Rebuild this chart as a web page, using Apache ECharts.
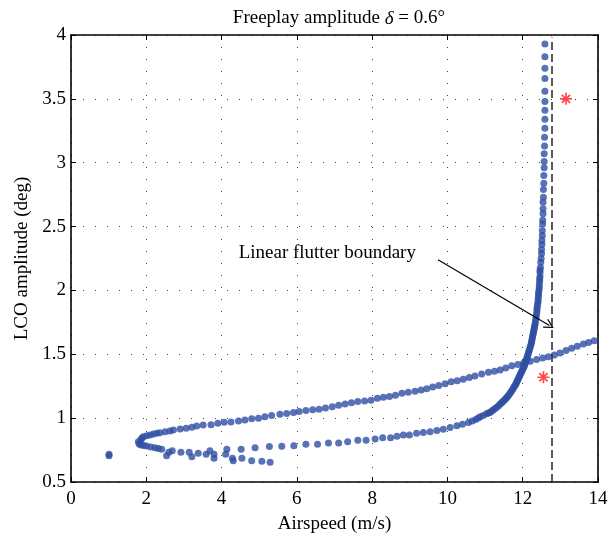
<!DOCTYPE html>
<html>
<head>
<meta charset="utf-8">
<script src="https://cdn.jsdelivr.net/npm/echarts@6/dist/echarts.min.js"></script>
<style>
html,body{margin:0;padding:0;background:#fff;}
#chart{width:611px;height:544px;}
</style>
</head>
<body>
<div id="chart"></div>
<script>
// ---- data ----
const xTicks = [0, 2, 4, 6, 8, 10, 12, 14];
const yTicks = [0.5, 1, 1.5, 2, 2.5, 3, 3.5, 4];

// upper (unstable) branch: from the turning point out to 14 m/s
const upperX = [1.79,1.86,1.88,1.92,2.01,2.10,2.19,2.28,2.36,2.50,2.63,2.72,2.90,3.06,3.21,3.34,3.51,3.72,3.90,4.07,4.25,4.45,4.62,4.80,4.98,5.15,5.33,5.55,5.73,5.91,6.06,6.24,6.42,6.59,6.76,6.94,7.11,7.28,7.45,7.62,7.80,7.97,8.14,8.30,8.46,8.62,8.79,8.96,9.14,9.30,9.45,9.61,9.77,9.94,10.10,10.26,10.42,10.58,10.73,10.91,11.09,11.25,11.40,11.55,11.71,11.87,12.02,12.20,12.37,12.53,12.68,12.84,12.99,13.15,13.30,13.45,13.61,13.75,13.90];
const upperY = [0.816,0.830,0.842,0.855,0.863,0.868,0.876,0.881,0.886,0.894,0.900,0.907,0.915,0.920,0.928,0.938,0.946,0.949,0.960,0.967,0.970,0.978,0.986,0.995,1.000,1.010,1.020,1.030,1.037,1.045,1.052,1.060,1.065,1.070,1.080,1.090,1.100,1.110,1.120,1.130,1.135,1.140,1.155,1.163,1.170,1.180,1.195,1.203,1.210,1.220,1.230,1.243,1.255,1.270,1.285,1.293,1.305,1.318,1.330,1.345,1.360,1.368,1.377,1.393,1.410,1.420,1.430,1.445,1.460,1.470,1.480,1.495,1.510,1.530,1.547,1.563,1.580,1.593,1.606];

// lower (stable) branch: from the turning point to the near-vertical rise
const lowerX = [1.81,1.86,1.93,2.01,2.12,2.23,2.32,2.41,2.60,2.69,2.92,3.14,3.38,3.59,3.69,3.80,4.11,4.14,4.52,4.89,5.27,5.60,5.92,6.24,6.55,6.84,7.11,7.35,7.62,7.84,8.08,8.28,8.49,8.66,8.83,8.99,9.18,9.36,9.54,9.72,9.89,10.07,10.25,10.40,10.56,10.66,10.75,10.82,10.87,10.95,11.04,11.09,11.13,11.18,11.22,11.27,11.31,11.36,11.40,11.44,11.47,11.51,11.54,11.57,11.60,11.63,11.66,11.69,11.72,11.75,11.77,11.80,11.82,11.84,11.86,11.88,11.90,11.92,11.94,11.96,11.98,12.00,12.02,12.04,12.05,12.07,12.08,12.10,12.11,12.13,12.14,12.16,12.17,12.19,12.20,12.22,12.23,12.24,12.25,12.26,12.27,12.28,12.29,12.30,12.31,12.32,12.33,12.34,12.35,12.36,12.37,12.38,12.38,12.39,12.40,12.41,12.41,12.42,12.42,12.43,12.44,12.44,12.45,12.45,12.46,12.46,12.46,12.47,12.48,12.49,12.50,12.50,12.51,12.51,12.52,12.52,12.53,12.53,12.54,12.54,12.54,12.55,12.55,12.56,12.56,12.57,12.57,12.57,12.58,12.58,12.59,12.59,12.59,12.59,12.59,12.59,12.59,12.59,12.59];
const lowerY = [0.798,0.790,0.786,0.782,0.775,0.769,0.762,0.756,0.732,0.745,0.732,0.732,0.725,0.717,0.745,0.717,0.717,0.756,0.756,0.769,0.777,0.780,0.784,0.795,0.795,0.805,0.805,0.816,0.827,0.827,0.837,0.847,0.847,0.858,0.868,0.868,0.881,0.887,0.894,0.903,0.913,0.927,0.941,0.953,0.965,0.978,0.990,1.002,1.011,1.020,1.035,1.040,1.045,1.055,1.065,1.075,1.085,1.098,1.110,1.120,1.130,1.140,1.150,1.160,1.170,1.182,1.195,1.207,1.220,1.232,1.245,1.257,1.270,1.282,1.295,1.307,1.320,1.332,1.345,1.357,1.370,1.382,1.395,1.407,1.420,1.432,1.445,1.457,1.470,1.485,1.500,1.515,1.530,1.545,1.560,1.575,1.590,1.605,1.620,1.635,1.650,1.665,1.680,1.695,1.710,1.725,1.740,1.760,1.780,1.800,1.820,1.840,1.860,1.880,1.900,1.920,1.940,1.960,1.980,2.000,2.020,2.045,2.070,2.090,2.110,2.140,2.160,2.180,2.220,2.250,2.290,2.320,2.360,2.390,2.430,2.470,2.520,2.550,2.600,2.640,2.690,2.730,2.790,2.840,2.900,2.960,3.010,3.070,3.130,3.200,3.270,3.340,3.410,3.480,3.560,3.660,3.740,3.830,3.930];

// isolated points below the lower branch
const looseX = [1.01,1.01,2.54,3.21,3.80,4.29,4.31,4.54,4.80,5.07,5.29];
const looseY = [0.705,0.718,0.706,0.698,0.686,0.686,0.667,0.686,0.667,0.662,0.654];

// red star markers
const starX = [13.15, 12.55];
const starY = [3.50, 1.32];

// linear flutter boundary speed
const flutterSpeed = 12.77;
const annotationText = 'Linear flutter boundary';
const annotationPos = [4.44, 2.29];
const arrowFrom = [9.75, 2.24];
const arrowTo = [12.71, 1.725];

// ---- chart ----
const zip = (xs, ys) => xs.map((x, i) => [x, ys[i]]);
const FONT = '"Liberation Serif", "DejaVu Serif", serif';
const BLUE = '#2F4FA3';
const gridLine = {show: true, lineStyle: {color: '#444', width: 1, type: [1, 11]}};
const starPath = 'path://M4.3 0h1.4v10h-1.4z M0 4.3h10v1.4h-10z M1.1 2.1L2.1 1.1L8.9 7.9L7.9 8.9z M7.9 1.1L8.9 2.1L2.1 8.9L1.1 7.9z';
const openArrow = 'path://M5 0L10 9.2L9 9.8L5 2.4L1 9.8L0 9.2z';

const chart = echarts.init(document.getElementById('chart'), null, {renderer: 'canvas'});
chart.setOption({
  animation: false,
  backgroundColor: '#fff',
  title: {
    text: 'Freeplay amplitude {i|δ} = 0.6°',
    left: 334, top: 4, textAlign: 'center',
    textStyle: {
      fontFamily: FONT, fontSize: 19, fontWeight: 'normal', color: '#000',
      rich: {i: {fontFamily: FONT, fontSize: 19, fontStyle: 'italic', color: '#000'}}
    }
  },
  grid: {left: 71, right: 13, top: 35, bottom: 62},
  xAxis: [{
    type: 'value', min: xTicks[0], max: xTicks[xTicks.length - 1], interval: 2,
    position: 'bottom',
    axisLine: {show: true, onZero: false, lineStyle: {color: '#000', width: 1.6}},
    axisTick: {show: true, inside: true, length: 5, lineStyle: {color: '#000', width: 1}},
    axisLabel: {margin: 8, fontFamily: FONT, fontSize: 19, color: '#000'},
    splitLine: gridLine,
    name: 'Airspeed (m/s)', nameLocation: 'middle', nameGap: 33,
    nameTextStyle: {fontFamily: FONT, fontSize: 19, color: '#000'}
  }, {
    type: 'value', min: xTicks[0], max: xTicks[xTicks.length - 1], interval: 2,
    position: 'top',
    axisLine: {show: true, onZero: false, lineStyle: {color: '#000', width: 1.6}},
    axisTick: {show: true, inside: true, length: 5, lineStyle: {color: '#000', width: 1}},
    axisLabel: {show: false}, splitLine: {show: false}
  }],
  yAxis: [{
    type: 'value', min: yTicks[0], max: yTicks[yTicks.length - 1], interval: 0.5,
    position: 'left',
    axisLine: {show: true, onZero: false, lineStyle: {color: '#000', width: 1.6}},
    axisTick: {show: true, inside: true, length: 5, lineStyle: {color: '#000', width: 1}},
    axisLabel: {margin: 5, fontFamily: FONT, fontSize: 19, color: '#000'},
    splitLine: gridLine,
    name: 'LCO amplitude (deg)', nameLocation: 'middle', nameGap: 38, nameRotate: 90,
    nameTextStyle: {fontFamily: FONT, fontSize: 19, color: '#000'}
  }, {
    type: 'value', min: yTicks[0], max: yTicks[yTicks.length - 1], interval: 0.5,
    position: 'right',
    axisLine: {show: true, onZero: false, lineStyle: {color: '#000', width: 1.6}},
    axisTick: {show: true, inside: true, length: 5, lineStyle: {color: '#000', width: 1}},
    axisLabel: {show: false}, splitLine: {show: false}
  }],
  series: [{
    type: 'scatter', name: 'upper', data: zip(upperX, upperY),
    symbol: 'circle', symbolSize: 7, itemStyle: {color: BLUE}, z: 3
  }, {
    type: 'scatter', name: 'lower', data: zip(lowerX, lowerY),
    symbol: 'circle', symbolSize: 7, itemStyle: {color: BLUE}, z: 3
  }, {
    type: 'scatter', name: 'loose', data: zip(looseX, looseY),
    symbol: 'circle', symbolSize: 7, itemStyle: {color: BLUE}, z: 3
  }, {
    type: 'scatter', name: 'stars', data: zip(starX, starY),
    symbol: starPath, symbolSize: 12, itemStyle: {color: '#FF1A1A'}, z: 4,
    markLine: {
      silent: true, animation: false,
      label: {show: false},
      data: [
        [{coord: [flutterSpeed, yTicks[0]], symbol: 'none', lineStyle: {type: [8, 4], color: '#333', width: 1.6}},
         {coord: [flutterSpeed, 3.98], symbol: 'none'}],
        [{coord: arrowFrom, symbol: 'none'},
         {coord: arrowTo, symbol: openArrow, symbolSize: [10, 10]}]
      ],
      lineStyle: {color: '#000', width: 1.2, type: 'solid'}
    },
    markPoint: {
      silent: true,
      data: [{coord: annotationPos, symbol: 'circle', symbolSize: 1,
        itemStyle: {color: 'rgba(0,0,0,0)'},
        label: {show: true, position: 'right', distance: 0, formatter: annotationText,
          fontFamily: FONT, fontSize: 19, color: '#000'}}]
    }
  }]
});
</script>
</body>
</html>
